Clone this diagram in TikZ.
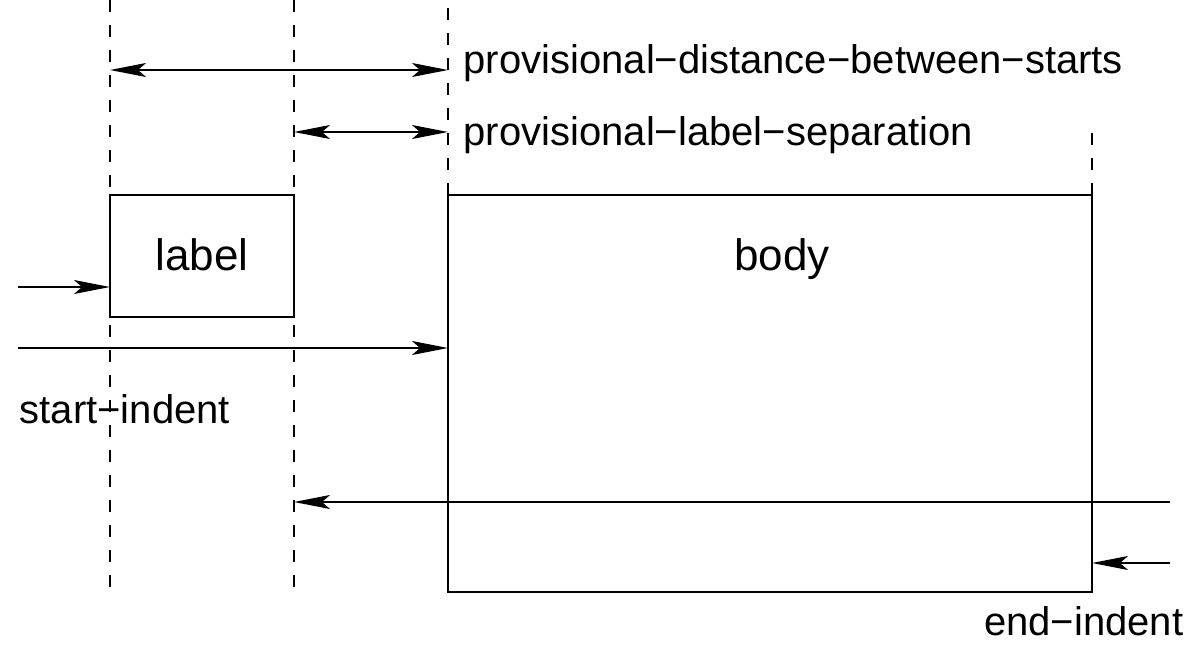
\documentclass[tikz,border=0pt]{standalone}
\usepackage{fontspec}
\setmainfont{Liberation Sans}
\usetikzlibrary{arrows.meta}
\begin{document}
\begin{tikzpicture}[x=1pt,y=-1pt,
  line width=1.5pt,
  guide/.style={line width=1.5pt, dash pattern=on 12pt off 13pt},
  boxstyle/.style={draw, line width=1.5pt, rectangle, inner sep=0pt},
  arr/.style={-{Stealth[length=36pt,width=14pt,inset=8pt]}},
  dbl/.style={{Stealth[length=36pt,width=14pt,inset=8pt]}-{Stealth[length=36pt,width=14pt,inset=8pt]}},
  bigtxt/.style={font=\fontsize{44}{50}\selectfont, inner sep=0pt},
  smalltxt/.style={font=\fontsize{40}{46}\selectfont, inner sep=0pt}]
\useasboundingbox (0,0) rectangle (1191,645);

% guide line ends
\coordinate (g1b) at (110,587); \coordinate (g1t) at (110,0);
\coordinate (g2b) at (294,587); \coordinate (g2t) at (294,0);
\coordinate (g3b) at (448,195); \coordinate (g3t) at (448,0);
\coordinate (g4b) at (1092,195); \coordinate (g4t) at (1092,130);

\draw[guide] (g1b) -- (g1t);
\draw[guide] (g2b) -- (g2t);
\draw[guide] (g3b) -- (g3t);
\draw[guide] (g4b) -- (g4t);

% boxes
\node[boxstyle, minimum width=184pt, minimum height=122pt] (labelbox) at (202,256) {};
\node[boxstyle, minimum width=644pt, minimum height=397pt] (bodybox) at (770,393.5) {};
\node[bigtxt, anchor=base] (labeltxt) at (202,270) {label};
\node[bigtxt, anchor=base] (bodytxt) at (782,270) {body};

% dimension arrows
\coordinate (a1l) at (110,70); \coordinate (a1r) at (448,70);
\coordinate (a2l) at (294,132); \coordinate (a2r) at (448,132);
\draw[dbl] (a1l) -- (a1r);
\draw[dbl] (a2l) -- (a2r);
\node[smalltxt, anchor=base west] (t1) at (463,73) {provisional−distance−between−starts};
\node[smalltxt, anchor=base west] (t2) at (463,145) {provisional−label−separation};

% left arrows
\coordinate (s3) at (18,287); \coordinate (e3) at (110,287);
\coordinate (s4) at (18,348); \coordinate (e4) at (448,348);
\draw[arr] (s3) -- (e3);
\draw[arr] (s4) -- (e4);
\node[smalltxt, anchor=base west] (t3) at (19,423) {start−indent};

% right arrows
\coordinate (s5) at (1170,502); \coordinate (e5) at (294,502);
\coordinate (s6) at (1170,563); \coordinate (e6) at (1092,563);
\draw[arr] (s5) -- (e5);
\draw[arr] (s6) -- (e6);
\node[smalltxt, anchor=base east] (t4) at (1184,635) {end−indent};
\end{tikzpicture}
\end{document}
